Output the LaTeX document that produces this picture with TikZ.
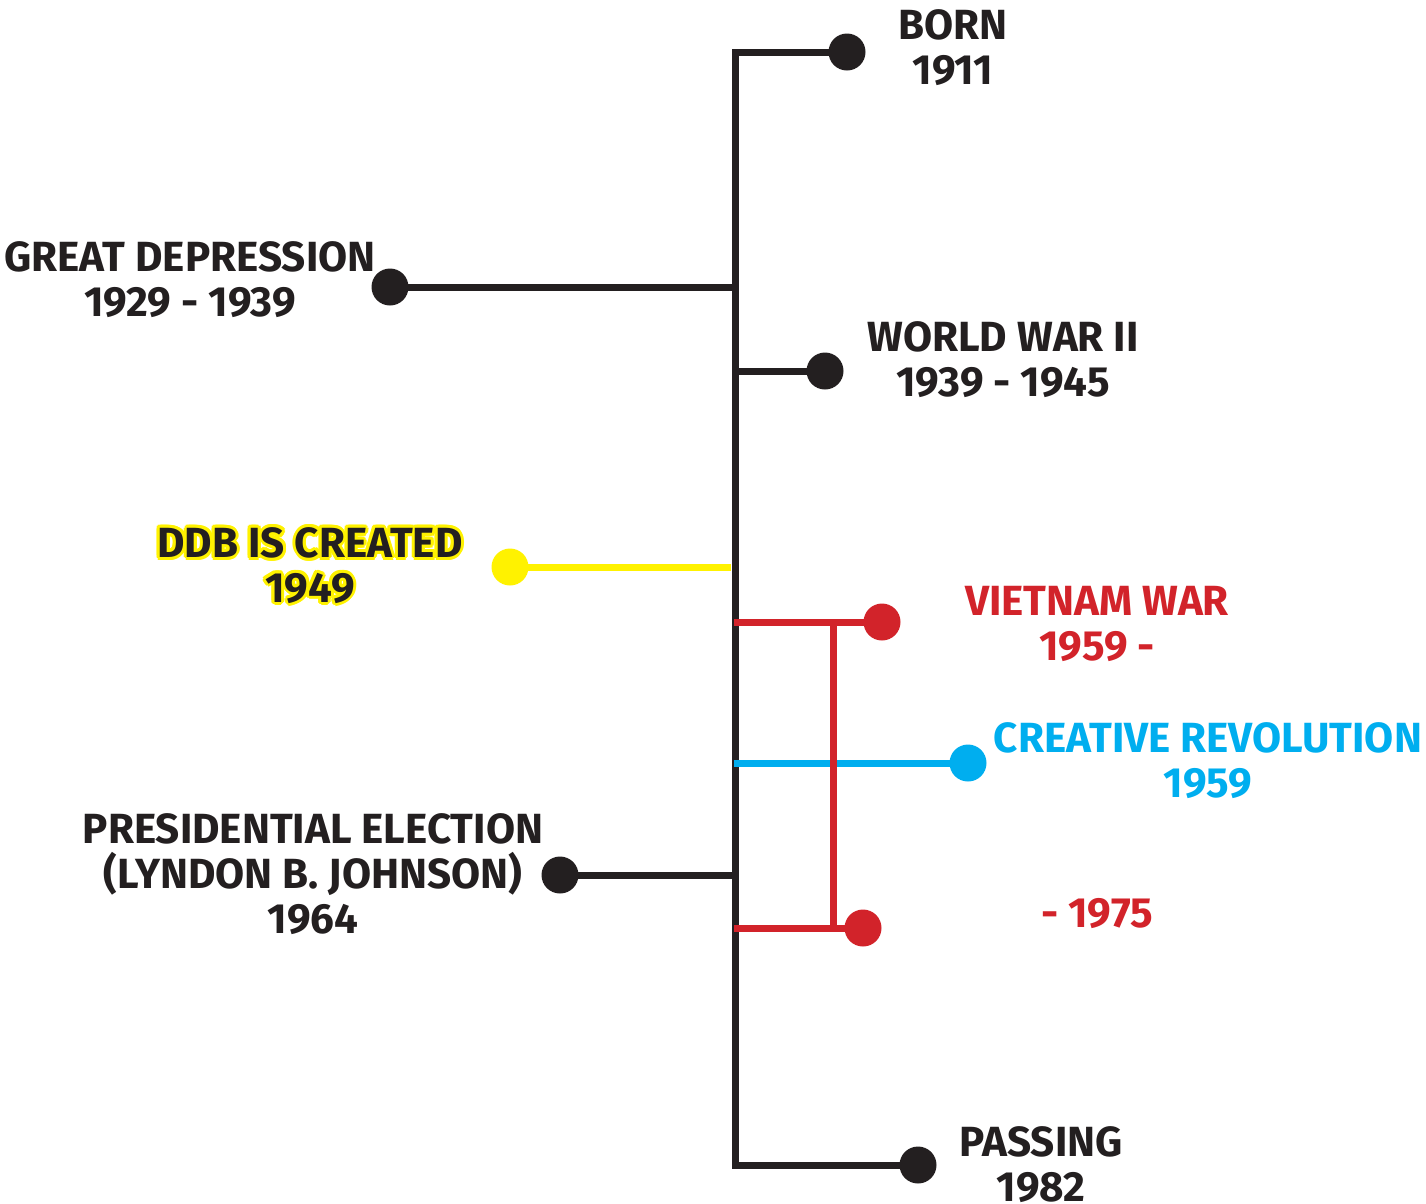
\documentclass[tikz,border=0pt]{standalone}
\usepackage{fontspec}
\setmainfont{Fira Sans}
\usetikzlibrary{calc}
\definecolor{tlblack}{HTML}{231F20}
\definecolor{tlred}{HTML}{D2232A}
\definecolor{tlblue}{HTML}{00AEEF}
\definecolor{tlyellow}{HTML}{FFF200}
\tikzset{
  dot/.style={circle, fill=#1, inner sep=0pt, minimum size=0.37cm},
  dot/.default=tlblack,
  stem/.style={line width=0.07cm, draw=#1},
  stem/.default=tlblack,
  evtext/.style={align=center, inner sep=0pt, text=#1,
    font=\fontsize{12}{12.8}\selectfont\bfseries},
  evtext/.default=tlblack
}
\begin{document}
\begin{tikzpicture}
		%%%%% START %%%%%
		\useasboundingbox (0, 0) rectangle (14.26, -12.03);
		
		% spine ends
		\coordinate (top) at (7.35, -0.52);
		\coordinate (bottom) at (7.35, -11.65);
		
		% black events
		\node[dot] (born) at (8.47, -0.52) {};
		\node[dot] (passing) at (9.18, -11.65) {};
		\node[dot] (depression) at (3.90, -2.87) {};
		\node[dot] (wwii) at (8.25, -3.71) {};
		\node[dot] (election) at (5.60, -8.75) {};
		
		\draw[stem, line join=miter] (born.center) -- (top) -- (bottom) -- (passing.center);
		\draw[stem] (depression.center) -- (depression -| top);
		\draw[stem] (wwii -| top) -- (wwii.center);
		\draw[stem] (election.center) -- (election -| top);
		
		% ddb
		\node[dot=tlyellow] (ddb) at (5.10, -5.67) {};
		\draw[stem=tlyellow] (ddb.center) -- ($(ddb -| top)+(-0.04, 0)$);
		
		% creative revolution
		\node[dot=tlblue] (creative) at (9.68, -7.63) {};
		\draw[stem=tlblue] ($(creative -| top)+(-0.01, 0)$) -- (creative.center);
		
		% vietnam war
		\node[dot=tlred] (vstart) at (8.82, -6.22) {};
		\node[dot=tlred] (vend) at (8.63, -9.28) {};
		\coordinate (vbar) at (8.33, -6.22);
		\draw[stem=tlred] ($(vstart -| top)+(-0.01, 0)$) -- (vstart.center);
		\draw[stem=tlred] ($(vend -| top)+(-0.01, 0)$) -- (vend.center);
		\draw[stem=tlred] (vbar) -- (vbar |- vend);
		
		% labels
		\node[evtext] (tborn) at (9.53, -0.475) {BORN\\1911};
		\node[evtext] (tdepression) at (1.90, -2.80) {GREAT DEPRESSION\\1929 - 1939};
		\node[evtext] (twwii) at (10.03, -3.595) {WORLD WAR II\\1939 - 1945};
		\foreach \a in {0, 30, ..., 330}
			\node[evtext=tlyellow] at ($(3.10, -5.655)+(\a:0.03)$) {DDB IS CREATED\\1949};
		\node[evtext] (tddb) at (3.10, -5.655) {DDB IS CREATED\\1949};
		\node[evtext=tlred] (tvstart) at (10.97, -6.235) {VIETNAM WAR\\1959 -};
		\node[evtext=tlblue] (tcreative) at (12.08, -7.61) {CREATIVE REVOLUTION\\1959};
		\node[evtext] (telection) at (3.13, -8.74) {PRESIDENTIAL ELECTION\\(LYNDON B. JOHNSON)\\1964};
		\node[evtext=tlred] (tvend) at (10.97, -9.14) {- 1975};
		\node[evtext] (tpassing) at (10.41, -11.645) {PASSING\\1982};
		
		%%%%% END %%%%%
\end{tikzpicture}
\end{document}
